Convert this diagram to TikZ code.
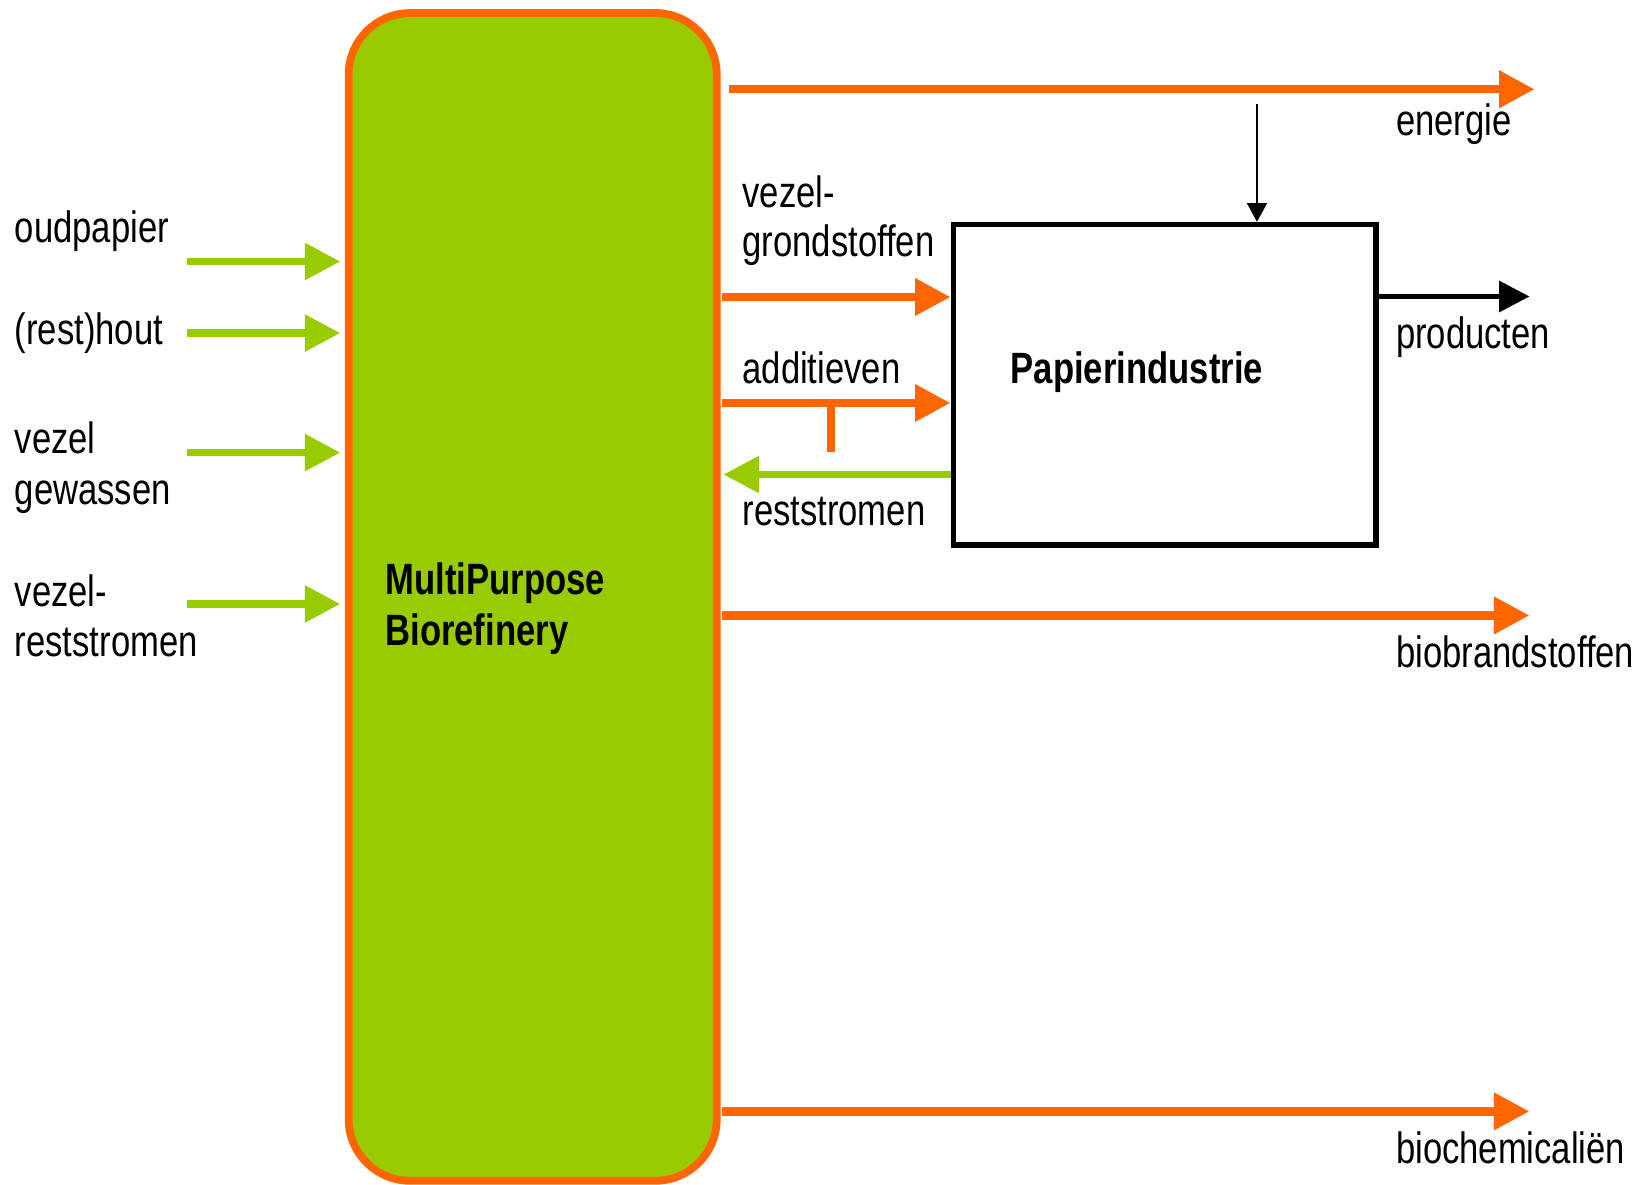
\documentclass[tikz,border=0pt]{standalone}
\usepackage{fontspec}
\setmainfont{Liberation Sans}[FakeStretch=0.79]
\usetikzlibrary{arrows.meta}
\definecolor{orng}{HTML}{FF6600}
\definecolor{lgreen}{HTML}{99CC00}
\begin{document}
\begin{tikzpicture}[x=1pt,y=-1pt,
  lbl/.style={anchor=base west, inner sep=0pt, font=\fontsize{42pt}{49pt}\selectfont},
  blbl/.style={anchor=base west, inner sep=0pt, font=\fontsize{42pt}{49pt}\selectfont\bfseries},
  oarrow/.style={draw=orng, line width=8pt, -{Triangle[length=34pt,width=34pt]}},
  garrow/.style={draw=lgreen, line width=7pt, -{Triangle[length=34pt,width=34pt]}},
  barrow/.style={draw=black, line width=4.8pt, -{Triangle[length=29pt,width=29pt]}},
  thinarrow/.style={draw=black, line width=2pt, -{Triangle[length=18pt,width=19pt]}},
  mpbbox/.style={draw=orng, fill=lgreen, line width=7.5pt, rounded corners=59pt, inner sep=0pt},
  papbox/.style={draw=black, line width=5pt, inner sep=0pt}
]
\useasboundingbox (0,0) rectangle (1568,1135);

% main boxes
\node[mpbbox, minimum width=352.5pt, minimum height=1118.5pt] (mpb) at (510.25,571.75) {};
\node[papbox, minimum width=405pt, minimum height=307pt] (pap) at (1115.5,368.5) {};

% box labels
\node[blbl] (mpbA) at (369,569) {MultiPurpose};
\node[blbl] (mpbB) at (369,618) {Biorefinery};
\node[blbl] (papT) at (968,367) {Papierindustrie};

% left inputs
\coordinate (i1s) at (179,250.5);  \coordinate (i1e) at (326,250.5);
\coordinate (i2s) at (179,319);    \coordinate (i2e) at (326,319);
\coordinate (i3s) at (179,433.5);  \coordinate (i3e) at (326,433.5);
\coordinate (i4s) at (179,578.5);  \coordinate (i4e) at (326,578.5);
\draw[garrow] (i1s) -- (i1e);
\draw[garrow] (i2s) -- (i2e);
\draw[garrow] (i3s) -- (i3e);
\draw[garrow] (i4s) -- (i4e);

\node[lbl] (tOud) at (14,232.5) {oudpapier};
\node[lbl] (tHout) at (14,329.5) {(rest)hout};
\node[lbl] (tVez1) at (14,434) {vezel};
\node[lbl] (tGew) at (14,483.5) {gewassen};
\node[lbl] (tVez2) at (14,581) {vezel-};
\node[lbl] (tRest1) at (14,629) {reststromen};

% outputs
\coordinate (es) at (698,85.5);    \coordinate (ee) at (1470,85.5);
\draw[oarrow] (es) -- (ee);
\coordinate (dn) at (1204,100);
\draw[thinarrow] (dn) -- (dn |- pap.north);

\coordinate (vg) at (692,284.5);
\draw[oarrow] (vg) -- (vg -| pap.west);
\coordinate (ad) at (692,386);
\draw[oarrow] (ad) -- (ad -| pap.west);
\coordinate (ts) at (796,386); \coordinate (te) at (796,433);
\draw[draw=orng, line width=7.5pt] (ts) -- (te);
\coordinate (rs) at (693,454.5);
\draw[garrow, line width=6.5pt] (rs -| pap.west) -- (rs);

\coordinate (pr) at (1465,284);
\draw[barrow] (pr -| pap.east) -- (pr);

\coordinate (bbs) at (692,589.5);  \coordinate (bbe) at (1465,589.5);
\draw[oarrow] (bbs) -- (bbe);
\coordinate (bcs) at (692,1064.5); \coordinate (bce) at (1465,1064.5);
\draw[oarrow] (bcs) -- (bce);

\node[lbl] (tEn) at (1337,130) {energie};
\node[lbl] (tVg1) at (711,199) {vezel-};
\node[lbl] (tVg2) at (711,246) {grondstoffen};
\node[lbl] (tAd) at (711,367) {additieven};
\node[lbl] (tRs) at (711,503) {reststromen};
\node[lbl] (tPr) at (1337,334) {producten};
\node[lbl] (tBb) at (1337,639) {biobrandstoffen};
\node[lbl] (tBc) at (1337,1114) {biochemicaliën};
\end{tikzpicture}
\end{document}
